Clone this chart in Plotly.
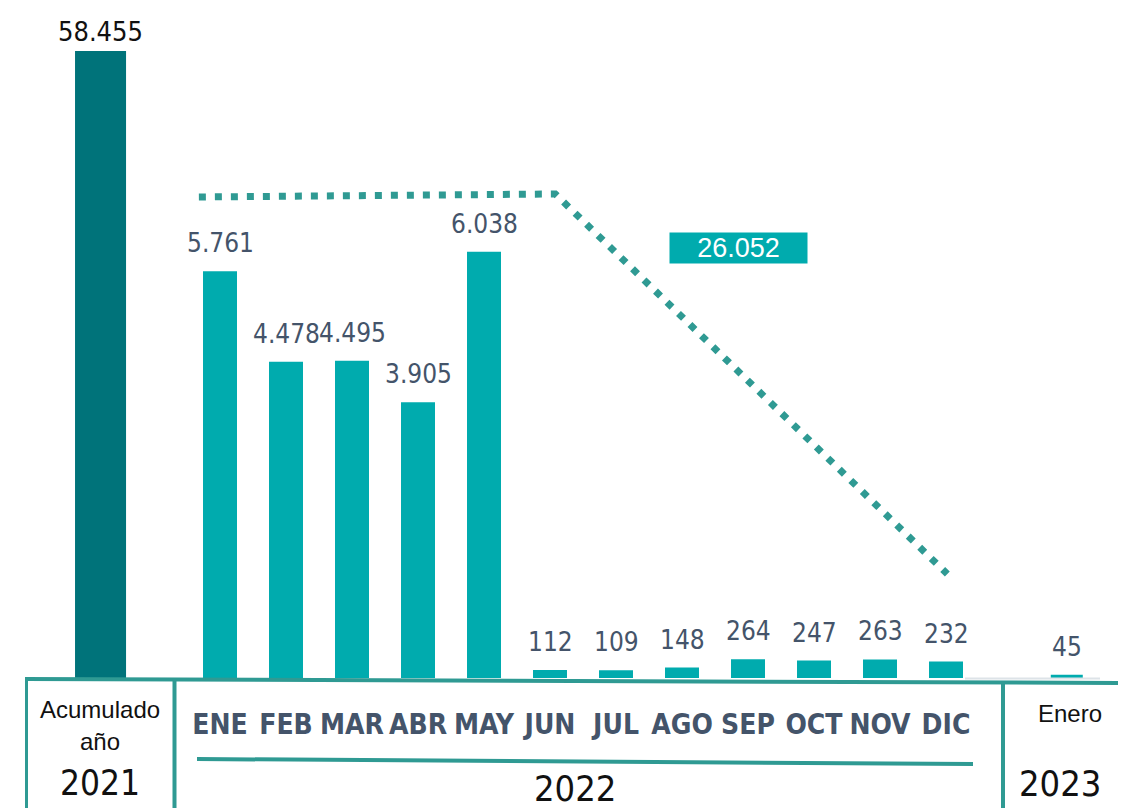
import plotly.graph_objects as go

# ---------------- data ----------------
months = ["ENE", "FEB", "MAR", "ABR", "MAY", "JUN", "JUL", "AGO", "SEP", "OCT", "NOV", "DIC"]
values_2022 = [5761, 4478, 4495, 3905, 6038, 112, 109, 148, 264, 247, 263, 232]
value_2021 = [58455]
value_2023 = [45]
total_label = "26.052"
trend_x = [-0.32, 5.08, 11.02]      # in month-position units
trend_y = [6813, 6856, 1473]

# ---------------- layout helpers ----------------
OFF = 8                      # page body margin
W, H = 1126 - OFF, 808 - OFF
PLOT_BOTTOM = 678            # page y of the bar baseline
PLOT_H = PLOT_BOTTOM - OFF
month_pos = list(range(len(months)))
pos_2021 = [-1.81]
pos_2023 = [12.83]
STEP = 66.0
ENE_X = 220 - OFF

def px(p):
    return (p - OFF) / W

def py(p):
    return (PLOT_BOTTOM - p) / PLOT_H

def fmt(v):
    return f"{v:,}".replace(",", ".")

NARROW = "DejaVu Sans Condensed, Liberation Sans Narrow, sans-serif"
SANS = "Liberation Sans, Arial, sans-serif"
LABEL_C = "#44546a"
TEAL = "#00abae"
DARK_TEAL = "#00737a"
LINE_C = "#2f9a93"

fig = go.Figure()

fig.add_trace(go.Bar(x=pos_2021, y=value_2021, width=0.773, marker_color=DARK_TEAL,
                     marker_line_width=0, yaxis="y2", hoverinfo="skip"))
fig.add_trace(go.Bar(x=month_pos, y=values_2022, width=0.515, marker_color=TEAL,
                     marker_line_width=0, hoverinfo="skip"))
fig.add_trace(go.Bar(x=pos_2023, y=value_2023, width=0.485, marker_color=TEAL,
                     marker_line_width=0, hoverinfo="skip"))
fig.add_trace(go.Scatter(x=trend_x, y=trend_y, mode="lines",
                         line=dict(color=LINE_C, width=7, dash="7px,9px"),
                         hoverinfo="skip"))

annotations = []
# value labels
for x, v in zip(month_pos + pos_2023, values_2022 + value_2023):
    annotations.append(dict(x=x, y=v, xref="x", yref="y", text=fmt(v), showarrow=False,
                            yanchor="bottom", yshift=11,
                            font=dict(family=NARROW, size=26, color=LABEL_C)))
for x, v in zip(pos_2021, value_2021):
    annotations.append(dict(x=x, y=v, xref="x", yref="y2", text=fmt(v), showarrow=False,
                            yanchor="bottom", yshift=2,
                            font=dict(family=NARROW, size=27, color="#111111")))

# total box
annotations.append(dict(x=px(738.5), y=py(248.5), xref="paper", yref="paper",
                        text=total_label, showarrow=False, bgcolor=TEAL, borderpad=0,
                        width=137, height=30, xanchor="center", yanchor="middle",
                        font=dict(family=SANS, size=27, color="white")))

# group texts
def txt(t, x, y, size, family=SANS):
    annotations.append(dict(x=px(x), y=py(y), xref="paper", yref="paper", text=t,
                            showarrow=False, xanchor="center", yanchor="middle",
                            font=dict(family=family, size=size, color="#111111")))

txt("Acumulado", 100, 709, 24)
txt("año", 100, 741, 24)
txt("2021", 100, 783, 35, NARROW)
txt("2022", 575, 788, 36, NARROW)
txt("Enero", 1070, 714, 24)
txt("2023", 1060, 783, 36, NARROW)

def hline(x0, x1, y0, y1, color=LINE_C, width=4):
    return dict(type="line", xref="paper", yref="paper", x0=px(x0), x1=px(x1),
                y0=py(y0), y1=py(y1), line=dict(color=color, width=width))

shapes = [
    hline(965, 1100, 678.5, 678.5, "#dde3e8", 2),
    hline(25, 1126, 679, 683),
    hline(26.5, 26.5, 679, 808, width=3),
    hline(174.5, 174.5, 679, 808),
    hline(1003, 1003, 682, 808),
    hline(197, 973, 759, 764),
]

fig.update_layout(
    width=W, height=H,
    margin=dict(l=0, r=0, t=0, b=H - PLOT_H, pad=0),
    paper_bgcolor="white", plot_bgcolor="white",
    showlegend=False, barmode="overlay",
    xaxis=dict(range=[-ENE_X / STEP, (W - ENE_X) / STEP], tickmode="array", tickvals=month_pos,
               ticktext=months, showgrid=False, zeroline=False, showline=False, ticks="",
               tickangle=0, ticklabelstandoff=27,
               tickfont=dict(family=NARROW, size=28, color=LABEL_C, weight="bold")),
    yaxis=dict(range=[0, PLOT_H / 0.0706], visible=False, showgrid=False),
    yaxis2=dict(range=[0, PLOT_H / 0.010726], visible=False, overlaying="y", showgrid=False),
    annotations=annotations,
    shapes=shapes,
)

fig.write_html("out.html")
